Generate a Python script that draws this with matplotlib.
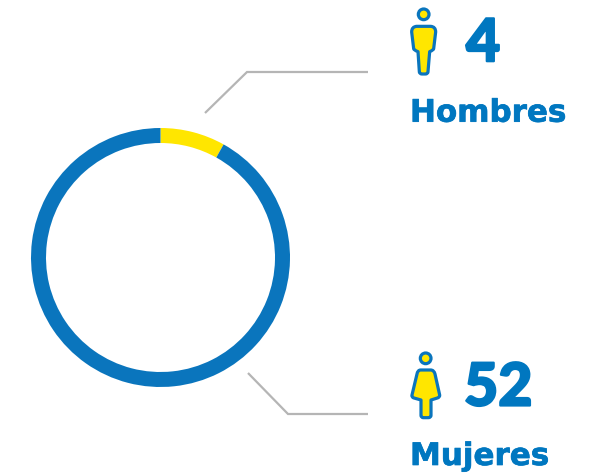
import matplotlib
matplotlib.use("Agg")
import matplotlib.pyplot as plt
import matplotlib.patheffects as pe
from matplotlib.patches import Circle, PathPatch
from matplotlib.path import Path

W, H = 599, 473
BLUE = "#0a75bd"
TEXT = "#0077c0"
YELLOW = "#ffe600"
GRAY = "#b5b5b5"

labels = ["Hombres", "Mujeres"]
counts = ["4", "52"]
ring_shares = [8.1, 91.9]
ring_colors = [YELLOW, BLUE]

fig = plt.figure(figsize=(W / 100, H / 100), dpi=100)
ax = fig.add_axes([0, 0, 1, 1])
ax.pie(ring_shares, colors=ring_colors, startangle=90, counterclock=False,
       center=(160.5, H - 257.5), radius=129.5, frame=True,
       wedgeprops=dict(width=15, linewidth=0))
ax.set_xlim(0, W)
ax.set_ylim(0, H)
ax.set_aspect("equal")
ax.axis("off")

def Y(p):
    return H - p

def leader(pts):
    ax.plot([p[0] for p in pts], [Y(p[1]) for p in pts], color=GRAY, lw=1.6,
            solid_joinstyle="miter", solid_capstyle="butt")

leader([(205, 113), (247, 72), (368, 72)])
leader([(248, 373), (288, 414), (368, 414)])

def person(ox, oy, head, start, segs):
    tf = lambda p: (ox + p[0] / 3, Y(oy + p[1] / 3))
    ax.add_patch(Circle(tf(head[0]), head[1] / 3, fc=YELLOW, ec=BLUE, lw=2.3))
    verts = [tf(start)]
    codes = [Path.MOVETO]
    for s in segs:
        if len(s) == 2:
            verts += [tf(s[0]), tf(s[1])]
            codes += [Path.CURVE3, Path.CURVE3]
        else:
            verts.append(tf(s[0]))
            codes.append(Path.LINETO)
    verts.append(tf(start))
    codes.append(Path.CLOSEPOLY)
    ax.add_patch(PathPatch(Path(verts, codes), fc=YELLOW, ec=BLUE, lw=2.3, joinstyle="round"))

person(390, 0, ((101, 43), 16), (80, 79),
       [((122, 79),), ((137, 80), (137, 96)), ((131, 146),), ((131, 150), (119, 155)),
        ((114, 215),), ((114, 222), (106, 222)), ((96, 222),), ((88, 222), (88, 215)),
        ((84, 155),), ((71, 150), (71, 146)), ((65, 96),), ((65, 80), (80, 79))])
person(390, 340, ((107, 55), 16), (92, 90),
       [((122, 90),), ((132, 90), (135, 102)), ((149, 165),), ((150, 172), (142, 174)),
        ((123, 180),), ((123, 226),), ((123, 233), (115, 233)), ((100, 233),),
        ((93, 233), (93, 226)), ((93, 180),), ((72, 174),), ((64, 172), (66, 165)),
        ((81, 102),), ((83, 90), (92, 90))])

FONT = ["Lato", "DejaVu Sans"]
thick = [pe.withStroke(linewidth=1.6, foreground=TEXT)]
thin = [pe.withStroke(linewidth=0.5, foreground=TEXT)]
num = dict(family=FONT, weight=900, color=TEXT, fontsize=42.5, va="baseline", ha="left",
           path_effects=thick)
lab = dict(family=["DejaVu Sans"], weight="bold", color=TEXT, fontsize=22.3, va="baseline", ha="left",
           path_effects=thin)

ax.text(466, Y(61.2), counts[0], **num)
ax.text(464, Y(405.5), counts[1], **num)
ax.text(410, Y(121.7), labels[0], **lab)
ax.text(410, Y(465), labels[1], **lab)

fig.savefig("out.png", dpi=100)
